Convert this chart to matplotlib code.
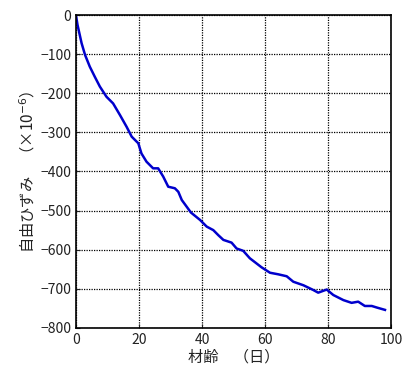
import matplotlib.pyplot as plt

plt.rcParams['font.family'] = ['Noto Sans CJK JP', 'DejaVu Sans']

# 材齢（日）と自由ひずみ（×10^-6）
days = [0, 0.5, 1.8, 2.9, 4.4, 6.0, 7.6, 9.7, 11.8, 14.0, 16.1, 17.7, 19.8, 20.8,
        22.4, 24.5, 26.1, 27.7, 29.3, 31.4, 32.5, 33.6, 36.5, 39.4, 41.5, 43.6,
        45.2, 46.8, 49.4, 51.0, 53.1, 55.2, 58.9, 61.6, 64.2, 66.9, 69.0, 72.2,
        75.3, 76.9, 79.6, 81.7, 84.9, 87.5, 89.6, 91.7, 93.9, 95.5, 98.1]
strain = [0, -25, -72, -102, -132, -158, -183, -209, -226, -256, -286, -311, -328, -354,
          -375, -392, -392, -413, -439, -443, -452, -473, -505, -524, -541, -550,
          -563, -575, -582, -597, -603, -622, -645, -659, -663, -668, -682, -691,
          -703, -710, -702, -716, -729, -736, -733, -744, -744, -748, -754]

fig = plt.figure(figsize=(4.06, 3.76), dpi=100)
ax = fig.add_axes([0.187, 0.128, 0.776, 0.832])

ax.plot(days, strain, color='#0000cc', linewidth=1.8)

ax.set_xlim(0, 100)
ax.set_ylim(-800, 0)
ax.set_xticks(range(0, 101, 20))
ax.set_yticks(range(-800, 1, 100))
ax.grid(True, color='black', linestyle=(0, (1, 1)), linewidth=0.9)
ax.tick_params(direction='in', length=3, labelsize=10, colors='#222222')
for s in ax.spines.values():
    s.set_linewidth(1.2)

ax.set_xlabel('材齢　（日）', fontsize=11, labelpad=1, color='#222222')
ax.set_ylabel('自由ひずみ　（×10$^{-6}$）', fontsize=11, labelpad=2, color='#222222')

fig.savefig('out.png', dpi=100)
